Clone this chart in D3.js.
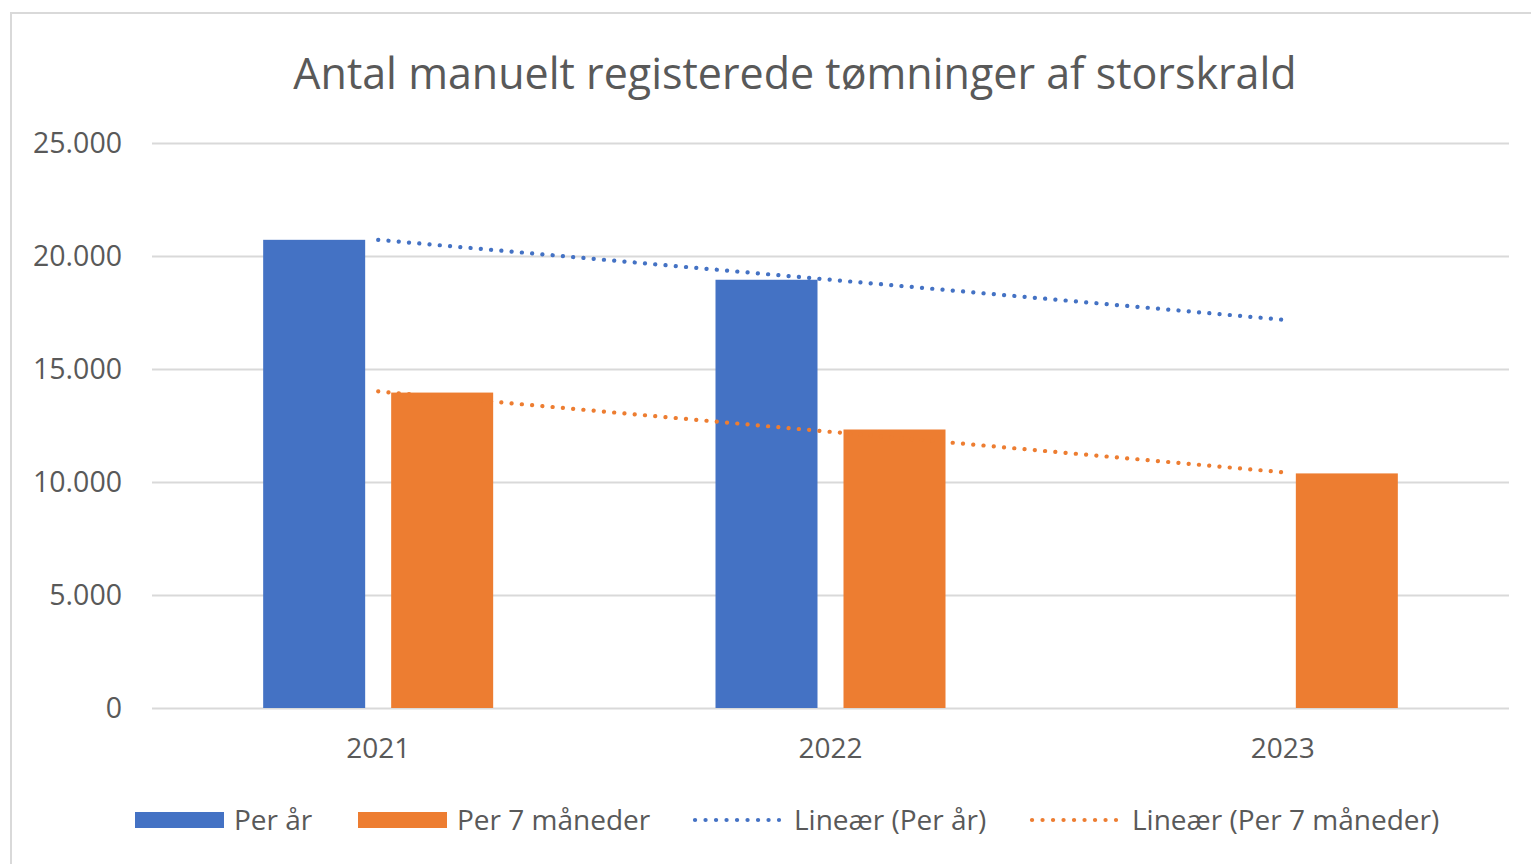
<!DOCTYPE html>
<html lang="da">
<head>
  <meta charset="UTF-8">
  <title>Antal manuelt registerede tømninger af storskrald</title>
  <script src="https://d3js.org/d3.v7.min.js"></script>
  <style>
    body { margin: 0; background: #fff; }
    svg { display: block; font-family: "Open Sans", "Noto Sans", sans-serif; }
  </style>
</head>
<body>
  <div id="root"></div>
  <script>
    // data
    const years = ['2021', '2022', '2023']
    const perAar = [20716, 18949, null]
    const per7Maaneder = [13957, 12323, 10380]
    const yTicks = [0, 5000, 10000, 15000, 20000, 25000]
    const seriesNames = ['Per år', 'Per 7 måneder']
    const trendNames = ['Lineær (Per år)', 'Lineær (Per 7 måneder)']
    const colors = ['#4472c4', '#ed7d31']

    const W = 1531, H = 864
    const margin = { left: 152, right: 22, top: 143, bottom: 156 }

    const svg = d3.select('#root')
      .append('svg')
      .attr('width', W)
      .attr('height', H)

    // chart frame (only left and top edges visible in the crop)
    svg.append('rect')
      .attr('x', 11).attr('y', 13)
      .attr('width', W + 20).attr('height', H + 20)
      .attr('fill', '#fff')
      .attr('stroke', '#d9d9d9')
      .attr('stroke-width', 2)

    svg.append('text')
      .attr('x', 795).attr('y', 89)
      .attr('text-anchor', 'middle')
      .attr('font-size', 43)
      .attr('fill', '#595959')
      .text('Antal manuelt registerede tømninger af storskrald')

    const x0 = d3.scaleBand()
      .domain(years)
      .range([margin.left, W - margin.right])

    const x1 = d3.scaleBand()
      .domain(seriesNames)
      .range([-115, 115])
      .paddingInner(26 / 128)

    const y = d3.scaleLinear()
      .domain([0, 25000])
      .range([H - margin.bottom, margin.top])

    const fmt = d => d3.format(',')(d).replace(/,/g, '.')

    // gridlines
    svg.append('g')
      .selectAll('line')
      .data(yTicks)
      .join('line')
      .attr('x1', margin.left)
      .attr('x2', W - margin.right)
      .attr('y1', d => Math.round(y(d)) + 0.5)
      .attr('y2', d => Math.round(y(d)) + 0.5)
      .attr('stroke', '#d9d9d9')
      .attr('stroke-width', 2)

    // y labels
    svg.append('g')
      .selectAll('text')
      .data(yTicks)
      .join('text')
      .attr('x', 122)
      .attr('y', d => y(d))
      .attr('dy', '0.35em')
      .attr('text-anchor', 'end')
      .attr('font-size', 28.5)
      .attr('fill', '#595959')
      .text(fmt)

    // bars
    const series = [perAar, per7Maaneder]
    series.forEach((vals, si) => {
      svg.append('g')
        .selectAll('rect')
        .data(years.map((yr, i) => ({ yr, v: vals[i] })).filter(d => d.v != null))
        .join('rect')
        .attr('x', d => x0(d.yr) + x0.bandwidth() / 2 + x1(seriesNames[si]))
        .attr('width', x1.bandwidth())
        .attr('y', d => y(d.v))
        .attr('height', d => y(0) - y(d.v))
        .attr('fill', colors[si])
    })

    // x labels
    svg.append('g')
      .selectAll('text')
      .data(years)
      .join('text')
      .attr('x', d => x0(d) + x0.bandwidth() / 2)
      .attr('y', 758)
      .attr('text-anchor', 'middle')
      .attr('font-size', 28)
      .attr('fill', '#595959')
      .text(d => d)

    // linear trendlines (least squares over the non-empty points)
    function trend(vals) {
      const pts = vals.map((v, i) => [i + 1, v]).filter(p => p[1] != null)
      const mx = d3.mean(pts, p => p[0]), my = d3.mean(pts, p => p[1])
      const b = d3.sum(pts, p => (p[0] - mx) * (p[1] - my)) / d3.sum(pts, p => (p[0] - mx) ** 2)
      return years.map((yr, i) => ({ yr, v: my + b * (i + 1 - mx) }))
    }

    const line = d3.line()
      .x(d => x0(d.yr) + x0.bandwidth() / 2)
      .y(d => y(d.v))

    series.forEach((vals, si) => {
      svg.append('path')
        .datum(trend(vals))
        .attr('d', line)
        .attr('fill', 'none')
        .attr('stroke', colors[si])
        .attr('stroke-width', 4.2)
        .attr('stroke-linecap', 'round')
        .attr('stroke-dasharray', '0.1 10.2')
    })

    // legend
    const legend = [
      { name: seriesNames[0], color: colors[0], type: 'bar', x: 135, tx: 234 },
      { name: seriesNames[1], color: colors[1], type: 'bar', x: 358, tx: 457 },
      { name: trendNames[0], color: colors[0], type: 'line', x: 695, tx: 794 },
      { name: trendNames[1], color: colors[1], type: 'line', x: 1032, tx: 1132 }
    ]
    const lg = svg.append('g').selectAll('g').data(legend).join('g')
    lg.filter(d => d.type === 'bar').append('rect')
      .attr('x', d => d.x).attr('y', 812)
      .attr('width', 89).attr('height', 16)
      .attr('fill', d => d.color)
    lg.filter(d => d.type === 'line').append('line')
      .attr('x1', d => d.x).attr('x2', d => d.x + 84)
      .attr('y1', 820).attr('y2', 820)
      .attr('stroke', d => d.color)
      .attr('stroke-width', 4.2)
      .attr('stroke-linecap', 'round')
      .attr('stroke-dasharray', '0.1 10.4')
    lg.append('text')
      .attr('x', d => d.tx).attr('y', 820)
      .attr('dy', '0.35em')
      .attr('font-size', 28)
      .attr('fill', '#595959')
      .text(d => d.name)
  </script>
</body>
</html>
